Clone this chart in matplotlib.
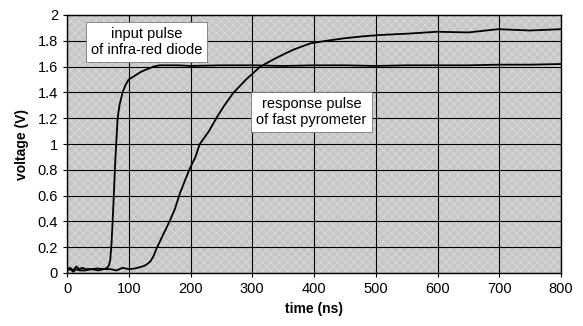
import matplotlib
matplotlib.use("Agg")
import matplotlib.pyplot as plt
from matplotlib.patches import Rectangle

# Input pulse of infra-red diode
t_input = [0, 5, 10, 15, 20, 25, 30, 40, 50, 60, 65, 68, 70, 72, 74, 76, 78, 80, 82, 85,
           90, 95, 100, 110, 120, 130, 140, 150, 160, 180, 200, 250, 300, 350, 400,
           450, 500, 550, 600, 650, 700, 750, 800]
v_input = [0.03, 0.04, 0.02, 0.05, 0.03, 0.04, 0.03, 0.03, 0.035, 0.03, 0.04, 0.06, 0.1,
           0.22, 0.41, 0.62, 0.85, 1.03, 1.2, 1.3, 1.4, 1.46, 1.5, 1.53, 1.56, 1.58, 1.6,
           1.61, 1.61, 1.61, 1.605, 1.61, 1.61, 1.605, 1.61, 1.61, 1.605, 1.61, 1.61,
           1.61, 1.615, 1.615, 1.62]

# Response pulse of fast pyrometer
t_resp = [0, 5, 10, 15, 20, 30, 40, 50, 60, 70, 80, 90, 100, 110, 118, 125, 130, 135, 140,
          146, 155, 167, 175, 183, 198, 208, 215, 230, 243, 255, 269, 290, 313, 340, 366,
          394, 420, 450, 480, 507, 550, 599, 650, 698, 750, 800]
v_resp = [0.02, 0.03, 0.01, 0.03, 0.02, 0.02, 0.03, 0.02, 0.03, 0.03, 0.02, 0.04, 0.03,
          0.035, 0.045, 0.055, 0.07, 0.09, 0.13, 0.2, 0.29, 0.41, 0.5, 0.62, 0.8, 0.9,
          1.0, 1.1, 1.21, 1.3, 1.395, 1.5, 1.6, 1.67, 1.73, 1.78, 1.8, 1.82, 1.835, 1.845,
          1.855, 1.87, 1.865, 1.89, 1.88, 1.89]

x_ticks = [0, 100, 200, 300, 400, 500, 600, 700, 800]
y_ticks = [0, 0.2, 0.4, 0.6, 0.8, 1, 1.2, 1.4, 1.6, 1.8, 2]
y_tick_labels = ["0", "0.2", "0.4", "0.6", "0.8", "1", "1.2", "1.4", "1.6", "1.8", "2"]

plt.rcParams['font.family'] = ['Liberation Sans', 'DejaVu Sans']
plt.rcParams['hatch.linewidth'] = 0.6

fig = plt.figure(figsize=(5.83, 3.26), dpi=100)
ax = fig.add_axes([67/583, 1-273/326, (561-67)/583, (273-15)/326])

ax.set_facecolor('#c6c6c6')
ax.add_patch(Rectangle((0, 0), 1, 1, transform=ax.transAxes, facecolor='none',
                       edgecolor='#dadada', hatch='xxxx', linewidth=0, zorder=0))
ax.set_xlim(0, 800)
ax.set_ylim(0, 2)
ax.set_xticks(x_ticks)
ax.set_yticks(y_ticks)
ax.set_yticklabels(y_tick_labels)
ax.grid(True, color='black', linewidth=0.8)
ax.set_axisbelow(True)
for s in ax.spines.values():
    s.set_linewidth(1.0)
    s.set_color('black')
ax.tick_params(axis='both', labelsize=10.5, length=3, width=0.8, direction='out')

ax.plot(t_input, v_input, color='black', linewidth=1.3)
ax.plot(t_resp, v_resp, color='black', linewidth=1.3)

ax.set_xlabel('time (ns)', fontsize=10, fontweight='bold', labelpad=4)
ax.set_ylabel('voltage (V)', fontsize=10, fontweight='bold', labelpad=6)

bbox = dict(boxstyle='square,pad=0.35', facecolor='white', edgecolor='#777777', linewidth=0.6)
ax.text(129, 1.79, 'input pulse\nof infra-red diode', ha='center', va='center',
        fontsize=10.5, bbox=bbox, linespacing=1.15)
ax.text(396, 1.25, 'response pulse\nof fast pyrometer', ha='center', va='center',
        fontsize=10.5, bbox=bbox, linespacing=1.15)

fig.savefig('out.png', dpi=100)
